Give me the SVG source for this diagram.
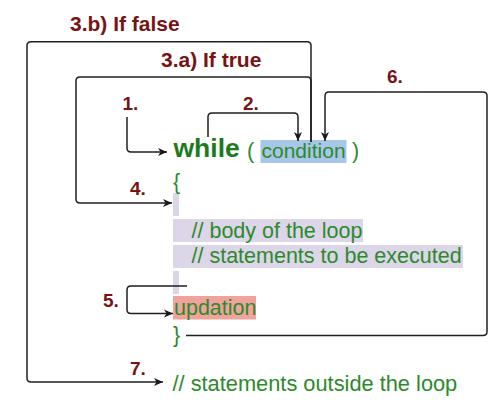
<svg xmlns="http://www.w3.org/2000/svg" width="497" height="410" viewBox="0 0 497 410">
<defs>
<marker id="ah" markerUnits="userSpaceOnUse" markerWidth="10" markerHeight="9" refX="9" refY="4.5" orient="auto">
<path d="M0,0.5 L9,4.5 L0,8.5 L2.5,4.5 z" fill="#1a1a1a"/>
</marker>
<style>
.lbl{font-family:"Liberation Sans",Arial,sans-serif;font-weight:bold;fill:#761414;}
.big{font-size:21px;}
.num{font-size:19px;}
.code{font-family:"Liberation Sans",Arial,sans-serif;font-size:21.5px;fill:#2c8a2c;}
.kw{font-family:"Liberation Sans",Arial,sans-serif;font-size:26.5px;font-weight:bold;fill:#1c7a1c;}
.c{fill:none;stroke:#1f1f1f;stroke-width:1.5;}
.arr{marker-end:url(#ah);}
</style>
</defs>
<rect width="497" height="410" fill="#ffffff"/>
<g id="highlights">
<rect x="260.5" y="140" width="86" height="23" fill="#a8c6e8"/>
<rect x="173" y="193" width="6" height="23" fill="#ddd5e8"/>
<rect x="173" y="219" width="190" height="23" fill="#ddd5e8"/>
<rect x="173" y="245" width="290" height="23" fill="#ddd5e8"/>
<rect x="173" y="271" width="6" height="23" fill="#ddd5e8"/>
<rect x="173" y="296" width="83" height="23.5" fill="#f0a39c"/>
</g>
<g id="connectors">
<path class="c arr" d="M311,142 V45.5 Q311,41.7 307,41.7 H31 Q27,41.7 27,45.5 V378 Q27,382 31,382 H163"/>
<path class="c arr" d="M311,142 V81 Q311,77 307,77 H80 Q76,77 76,81 V199 Q76,203 80,203 H172"/>
<path class="c arr" d="M127,117 V148 Q127,152 131,152 H167"/>
<path class="c arr" d="M208,137 V117 Q208,113 212,113 H294 Q298,113 298,117 V141"/>
<path class="c arr" d="M186,335.5 H483 Q487,335.5 487,331.5 V96 Q487,92 483,92 H329 Q325,92 325,96 V141"/>
<path class="c arr" d="M187,286 H131 Q127,286 127,290 V309.5 Q127,313.5 131,313.5 H173"/>
</g>
<g id="labels">
<text class="lbl big" x="70" y="31">3.b) If false</text>
<text class="lbl big" x="161" y="66.5">3.a) If true</text>
<text class="lbl num" x="122.5" y="110">1.</text>
<text class="lbl num" x="243" y="110">2.</text>
<text class="lbl num" x="387" y="82.5">6.</text>
<text class="lbl num" x="130" y="194.5">4.</text>
<text class="lbl num" x="103" y="306.5">5.</text>
<text class="lbl num" x="130" y="374.5">7.</text>
</g>
<g id="while-line">
<text class="kw" x="173.5" y="157">while</text>
<text class="code" x="247" y="158">(</text>
<text class="code" x="261.5" y="158" style="font-size:21px">condition</text>
<text class="code" x="352" y="158">)</text>
</g>
<g id="body">
<text class="code" x="173" y="189">{</text>
<text class="code" x="191.5" y="237.5">// body of the loop</text>
<text class="code" x="191.5" y="262.5">// statements to be executed</text>
</g>
<g id="updation">
<text class="code" x="174" y="315">updation</text>
</g>
<g id="close-brace">
<text class="code" x="173" y="342">}</text>
</g>
<g id="outside">
<text class="code" x="172.5" y="391" style="font-size:21.8px">// statements outside the loop</text>
</g>
</svg>
